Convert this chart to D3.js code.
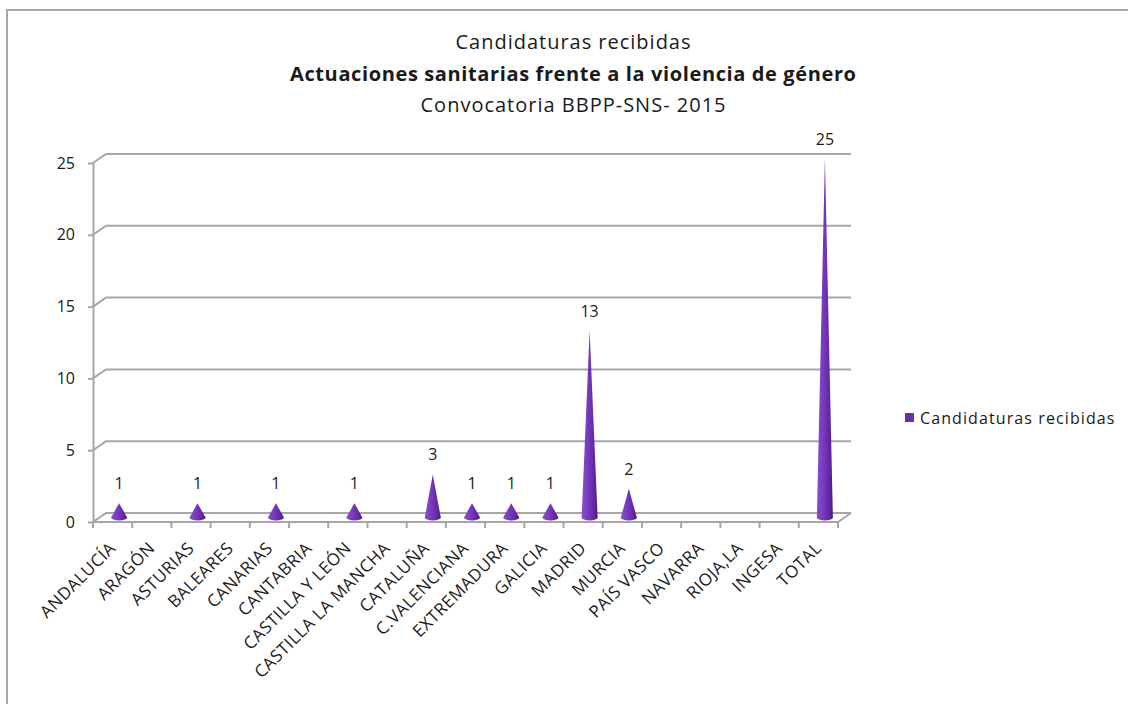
<!DOCTYPE html>
<html>
<head>
<meta charset="utf-8">
<script src="https://cdn.jsdelivr.net/npm/d3@7"></script>
<style>
  html, body { margin: 0; padding: 0; background: #fff; }
  svg { display: block; font-family: "Open Sans", Lato, sans-serif; }
</style>
</head>
<body>
<svg id="chart" width="1128" height="704"></svg>
<script>
// Regions (category axis) and number of applications received
const categories = ["ANDALUCÍA", "ARAGÓN", "ASTURIAS", "BALEARES", "CANARIAS", "CANTABRIA",
  "CASTILLA Y LEÓN", "CASTILLA LA MANCHA", "CATALUÑA", "C.VALENCIANA", "EXTREMADURA",
  "GALICIA", "MADRID", "MURCIA", "PAÍS VASCO", "NAVARRA", "RIOJA,LA", "INGESA", "TOTAL"];
const values = [1, 0, 1, 0, 1, 0, 1, 0, 3, 1, 1, 1, 13, 2, 0, 0, 0, 0, 25];
const yTicks = [0, 5, 10, 15, 20, 25];
const seriesName = "Candidaturas recibidas";
const titleLines = ["Candidaturas recibidas",
  "Actuaciones sanitarias frente a la violencia de género",
  "Convocatoria BBPP-SNS- 2015"];

const svg = d3.select("#chart");
const gridColor = "#a6a6a6";
const textColor = "#1a1a1a";

// Front plane of the 3D plot area and the depth offset to the back wall
const plotLeft = 93, plotRight = 838, plotBottom = 522, plotTop = 163;
const depth = { dx: 13, dy: -9 };

const x = d3.scaleBand().domain(categories).range([plotLeft, plotRight]);
const y = d3.scaleLinear().domain([0, 25]).range([plotBottom, plotTop]);

// Chart frame
svg.append("rect")
  .attr("x", 7).attr("y", 10).attr("width", 1140).attr("height", 720)
  .attr("fill", "#fff").attr("stroke", "#a8a8a8").attr("stroke-width", 2);

// Titles
const titleG = svg.append("g").attr("text-anchor", "middle").attr("fill", textColor)
  .attr("font-size", 20);
titleG.append("text").attr("x", 573).attr("y", 49)
  .attr("textLength", 235).attr("lengthAdjust", "spacing").text(titleLines[0]);
titleG.append("text").attr("x", 573).attr("y", 81).attr("font-weight", "bold")
  .attr("textLength", 566).attr("lengthAdjust", "spacing").text(titleLines[1]);
titleG.append("text").attr("x", 573).attr("y", 112)
  .attr("textLength", 305).attr("lengthAdjust", "spacing").text(titleLines[2]);

// Back wall gridlines and side wall connectors
const grid = svg.append("g").attr("stroke", gridColor).attr("stroke-width", 2).attr("fill", "none");
yTicks.forEach(t => {
  const yy = y(t);
  grid.append("path")
    .attr("d", `M${plotLeft},${yy}L${plotLeft + depth.dx},${yy + depth.dy}L${plotRight + depth.dx},${yy + depth.dy}`);
});
// Floor outline
grid.append("path")
  .attr("d", `M${plotLeft},${plotBottom}L${plotRight},${plotBottom}L${plotRight + depth.dx},${plotBottom + depth.dy}`);

// Value axis
const yAxis = svg.append("g")
  .attr("transform", `translate(${plotLeft},0)`)
  .call(d3.axisLeft(y).tickValues(yTicks).tickSize(5).tickPadding(13).tickSizeOuter(0));
yAxis.select(".domain").attr("stroke", gridColor).attr("stroke-width", 2);
yAxis.selectAll(".tick line").attr("stroke", gridColor).attr("stroke-width", 2);
yAxis.selectAll(".tick text").attr("font-size", 16).attr("fill", textColor)
  .attr("font-family", "'Open Sans', sans-serif");

// Category axis
const xAxis = svg.append("g")
  .attr("transform", `translate(0,${plotBottom})`)
  .call(d3.axisBottom(x).tickSize(0).tickSizeOuter(0));
xAxis.select(".domain").remove();
xAxis.selectAll(".tick text")
  .attr("font-size", 17).attr("fill", textColor).attr("font-family", "'Open Sans', sans-serif")
  .attr("letter-spacing", 0.5)
  .attr("text-anchor", "end")
  .attr("transform", "translate(0,23) rotate(-45)")
  .attr("x", 0).attr("y", 0).attr("dx", 0).attr("dy", "0.35em");
// Tick marks at band boundaries
const bounds = categories.map(c => x(c)).concat([plotRight]);
svg.append("g").attr("stroke", gridColor).attr("stroke-width", 2)
  .selectAll("line").data(bounds).join("line")
  .attr("x1", d => d).attr("x2", d => d)
  .attr("y1", plotBottom).attr("y2", plotBottom + 6);

// Cone shading
const defs = svg.append("defs");
const grad = defs.append("linearGradient").attr("id", "coneFill")
  .attr("x1", "0%").attr("x2", "100%").attr("y1", "0%").attr("y2", "0%");
grad.append("stop").attr("offset", "0%").attr("stop-color", "#8a4dd0");
grad.append("stop").attr("offset", "35%").attr("stop-color", "#7a3dc0");
grad.append("stop").attr("offset", "75%").attr("stop-color", "#6628a6");
grad.append("stop").attr("offset", "100%").attr("stop-color", "#4e1a84");

// Cones sit halfway into the depth
const midDx = depth.dx / 2, midDy = depth.dy / 2;
const rx = 8, ry = 3;
const data = categories.map((c, i) => ({ c, v: values[i] })).filter(d => d.v > 0);

svg.append("g").selectAll("path").data(data).join("path")
  .attr("fill", "url(#coneFill)")
  .attr("d", d => {
    const cx = x(d.c) + x.bandwidth() / 2 + midDx;
    const by = y(0) + midDy;
    const ty = y(d.v) + midDy;
    return `M${cx - rx},${by}L${cx},${ty}L${cx + rx},${by}A${rx},${ry} 0 0 1 ${cx - rx},${by}Z`;
  });

// Data labels
svg.append("g").attr("text-anchor", "middle").attr("font-size", 16).attr("fill", textColor)
  .selectAll("text").data(data).join("text")
  .attr("x", d => x(d.c) + x.bandwidth() / 2 + midDx)
  .attr("y", d => y(d.v) + midDy - 14)
  .text(d => d.v);

// Legend
const legend = svg.append("g").attr("transform", "translate(905,418)");
legend.append("rect").attr("x", 0).attr("y", -5).attr("width", 9).attr("height", 9).attr("fill", "#7030a0");
legend.append("text").attr("x", 15).attr("y", 0).attr("dy", "0.35em")
  .attr("font-size", 16).attr("letter-spacing", 1.1).attr("fill", textColor).text(seriesName);
</script>
</body>
</html>
